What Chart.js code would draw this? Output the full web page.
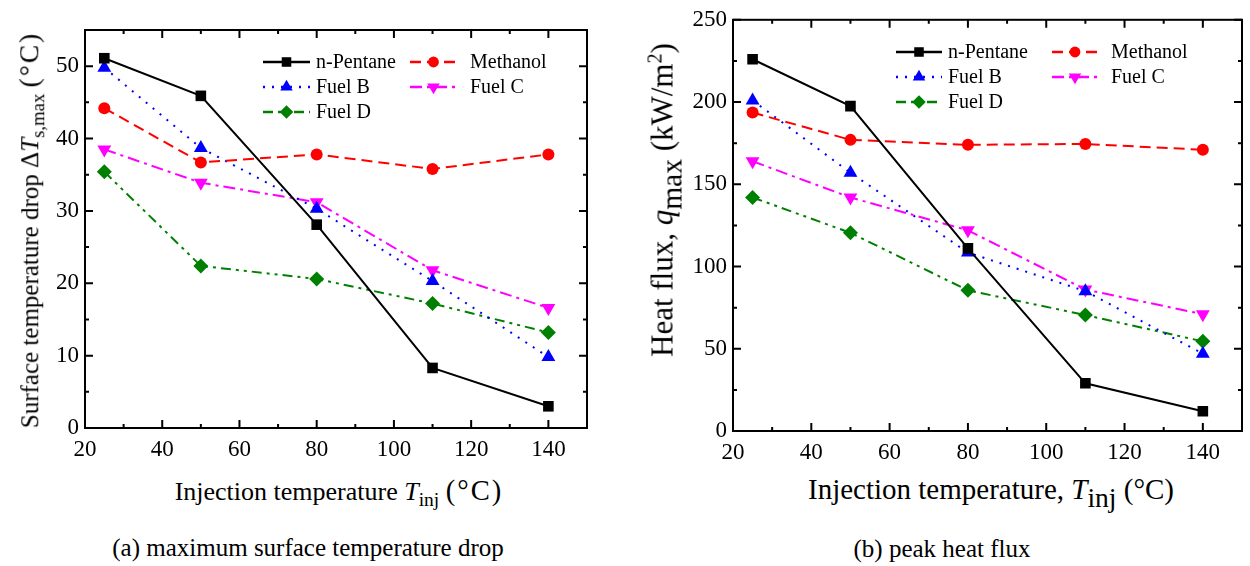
<!DOCTYPE html>
<html>
<head>
<meta charset="utf-8">
<script src="https://cdn.jsdelivr.net/npm/chart.js@4.4.1/dist/chart.umd.min.js"></script>
<style>
  body { margin: 0; background: #fff; width: 1250px; height: 566px; position: relative; overflow: hidden;
         font-family: 'Liberation Serif', 'Times New Roman', serif; color: #000; }
  canvas { position: absolute; }
  .t { position: absolute; white-space: nowrap; font-size: 26px; line-height: 1; }
  .cap { font-size: 25px; }
  .rot { transform: translate(-50%, -50%) rotate(-90deg); }
  .hc { transform: translate(-50%, -50%); }
  .u { font-size: 110%; letter-spacing: 2px; }
  sub { font-size: 75%; vertical-align: -0.3em; line-height: 0; }
  sup { font-size: 65%; vertical-align: 0.55em; line-height: 0; }
</style>
</head>
<body>
<canvas id="chartA" style="left:0;top:0"></canvas>
<canvas id="chartB" style="left:630px;top:0"></canvas>

<div class="t rot" style="left:29px;top:230px;font-size:25px">Surface temperature drop &Delta;<i>T</i><sub>s,max</sub> <span class="u">(&deg;C)</span></div>
<div class="t hc" style="left:339px;top:491px">Injection temperature <i>T</i><sub>inj</sub> <span class="u">(&deg;C)</span></div>
<div class="t cap hc" style="left:308px;top:547px">(a) maximum surface temperature drop</div>

<div class="t rot" style="left:662px;top:200px;font-size:31px">Heat flux, <i>q</i><sub style="font-size:95%">max</sub> (kW/m<sup>2</sup>)</div>
<div class="t hc" style="left:991px;top:489px;font-size:29px">Injection temperature, <i>T</i><sub style="font-size:95%">inj</sub> (&deg;C)</div>
<div class="t cap hc" style="left:942px;top:548px">(b) peak heat flux</div>

<script>
// injection temperature (°C)
const temps = [25, 50, 80, 110, 140];
const seriesNames = ['n-Pentane', 'Methanol', 'Fuel B', 'Fuel C', 'Fuel D'];

// (a) maximum surface temperature drop (°C)
const dropPentane  = [51.1, 45.9, 28.1, 8.3, 3.0];
const dropMethanol = [44.2, 36.7, 37.8, 35.8, 37.8];
const dropFuelB    = [49.8, 38.7, 30.3, 20.3, 9.8];
const dropFuelC    = [38.5, 33.9, 31.2, 21.8, 16.6];
const dropFuelD    = [35.4, 22.4, 20.6, 17.2, 13.2];

// (b) peak heat flux (kW/m2)
const fluxPentane  = [226, 197.5, 111, 29, 12];
const fluxMethanol = [193.6, 177, 174, 174.5, 171];
const fluxFuelB    = [201, 157, 108.5, 85, 47];
const fluxFuelC    = [164, 142, 122, 86, 71];
const fluxFuelD    = [142, 120.5, 85.5, 70.5, 54.5];

// axis ticks
const xTicks = [20, 40, 60, 80, 100, 120, 140];
const xMinor = [30, 50, 70, 90, 110, 130, 150];
const yTicksA = [0, 10, 20, 30, 40, 50];
const yMinorA = [5, 15, 25, 35, 45, 55];
const yTicksB = [0, 50, 100, 150, 200, 250];
const yMinorB = [25, 75, 125, 175, 225];

const FONT = "'Liberation Serif', 'Times New Roman', serif";

// line / marker styles per series
const styles = [
  { color: '#000000', dash: [],                  pointStyle: 'rect',     radius: 7.5, rotation: 0 },
  { color: '#ff0000', dash: [11, 6],             pointStyle: 'circle',   radius: 6,   rotation: 0 },
  { color: '#0000ff', dash: [2, 7],              pointStyle: 'triangle', radius: 8,   rotation: 0 },
  { color: '#ff00ff', dash: [12, 5, 3, 5],       pointStyle: 'triangle', radius: 8,   rotation: 180 },
  { color: '#008000', dash: [10, 5, 3, 5, 3, 5], pointStyle: 'rectRot',  radius: 7.5, rotation: 0 }
];

function makeDatasets(values) {
  return values.map((vals, i) => ({
    label: seriesNames[i],
    data: temps.map((t, k) => ({ x: t, y: vals[k] })),
    borderColor: styles[i].color,
    backgroundColor: styles[i].color,
    borderWidth: 2,
    borderDash: styles[i].dash,
    pointStyle: styles[i].pointStyle,
    pointRadius: styles[i].radius,
    pointRotation: styles[i].rotation,
    pointBorderWidth: 0,
    tension: 0
  }));
}

// box frame + inward major / minor ticks on all four sides
const framePlugin = {
  id: 'frame',
  afterDatasetsDraw(chart, args, opts) {
    const { ctx, chartArea: a, scales: { x, y } } = chart;
    ctx.save();
    ctx.strokeStyle = '#000';
    ctx.lineWidth = 2;
    ctx.setLineDash([]);
    ctx.strokeRect(a.left, a.top, a.right - a.left, a.bottom - a.top);
    const tick = (list, len, vertical) => {
      list.forEach(v => {
        ctx.beginPath();
        if (vertical) {
          const px = x.getPixelForValue(v);
          ctx.moveTo(px, a.bottom); ctx.lineTo(px, a.bottom - len);
          ctx.moveTo(px, a.top); ctx.lineTo(px, a.top + len);
        } else {
          const py = y.getPixelForValue(v);
          ctx.moveTo(a.left, py); ctx.lineTo(a.left + len, py);
          ctx.moveTo(a.right, py); ctx.lineTo(a.right - len, py);
        }
        ctx.stroke();
      });
    };
    tick(xTicks, 8, true);
    tick(xMinor, 4, true);
    tick(opts.yMajor, 8, false);
    tick(opts.yMinor, 4, false);
    ctx.restore();
  }
};

// two-column legend drawn inside the plot
const legendPlugin = {
  id: 'fuelLegend',
  afterDraw(chart, args, opts) {
    const ctx = chart.ctx;
    ctx.save();
    ctx.font = '20px ' + FONT;
    ctx.textBaseline = 'middle';
    chart.data.datasets.forEach((ds, i) => {
      const col = i % 2, row = Math.floor(i / 2);
      const x0 = opts.x + col * opts.colDx;
      const yy = opts.y + row * opts.rowDy;
      ctx.strokeStyle = ds.borderColor;
      ctx.lineWidth = 2.5;
      ctx.setLineDash(ds.borderDash);
      ctx.beginPath();
      ctx.moveTo(x0, yy);
      ctx.lineTo(x0 + opts.len, yy);
      ctx.stroke();
      ctx.setLineDash([]);
      ctx.fillStyle = ds.borderColor;
      Chart.helpers.drawPoint(ctx, {
        pointStyle: ds.pointStyle, radius: ds.pointRadius * 0.9, rotation: ds.pointRotation, borderWidth: 0
      }, x0 + opts.len / 2, yy);
      ctx.fillStyle = '#000';
      ctx.fillText(ds.label, x0 + opts.len + opts.gap[col], yy + 1);
    });
    ctx.restore();
  }
};

function makeChart(id, w, h, pad, yw, xh, yMax, yMajor, yMinor, values, legend) {
  const canvas = document.getElementById(id);
  canvas.width = w; canvas.height = h;
  canvas.style.width = w + 'px'; canvas.style.height = h + 'px';
  return new Chart(canvas, {
    type: 'line',
    data: { datasets: makeDatasets(values) },
    options: {
      responsive: false,
      animation: false,
      devicePixelRatio: 1,
      layout: { padding: pad },
      plugins: {
        legend: { display: false },
        tooltip: { enabled: false },
        frame: { yMajor: yMajor, yMinor: yMinor },
        fuelLegend: legend
      },
      scales: {
        x: {
          type: 'linear', min: 20, max: 150,
          afterBuildTicks: s => { s.ticks = xTicks.map(v => ({ value: v })); },
          afterFit: s => { s.height = xh; },
          grid: { display: false, drawTicks: false },
          border: { display: false },
          ticks: { color: '#000', padding: 8, maxRotation: 0, font: { family: FONT, size: 23 } }
        },
        y: {
          type: 'linear', min: 0, max: yMax,
          afterBuildTicks: s => { s.ticks = yMajor.map(v => ({ value: v })); },
          afterFit: s => { s.width = yw; },
          grid: { display: false, drawTicks: false },
          border: { display: false },
          ticks: { color: '#000', padding: 6, font: { family: FONT, size: 23 } }
        }
      }
    },
    plugins: [framePlugin, legendPlugin]
  });
}

makeChart('chartA', 610, 470, { top: 30, right: 23, left: 0, bottom: 0 }, 85, 42, 55,
  yTicksA, yMinorA,
  [dropPentane, dropMethanol, dropFuelB, dropFuelC, dropFuelD],
  { x: 263, y: 62, colDx: 147, rowDy: 25, len: 47, gap: [6, 13] });

makeChart('chartB', 620, 470, { top: 14, right: 3, left: 0, bottom: 0 }, 103, 39, 250,
  yTicksB, yMinorB,
  [fluxPentane, fluxMethanol, fluxFuelB, fluxFuelC, fluxFuelD],
  { x: 266, y: 52, colDx: 156, rowDy: 25, len: 46, gap: [6, 13] });
</script>
</body>
</html>
